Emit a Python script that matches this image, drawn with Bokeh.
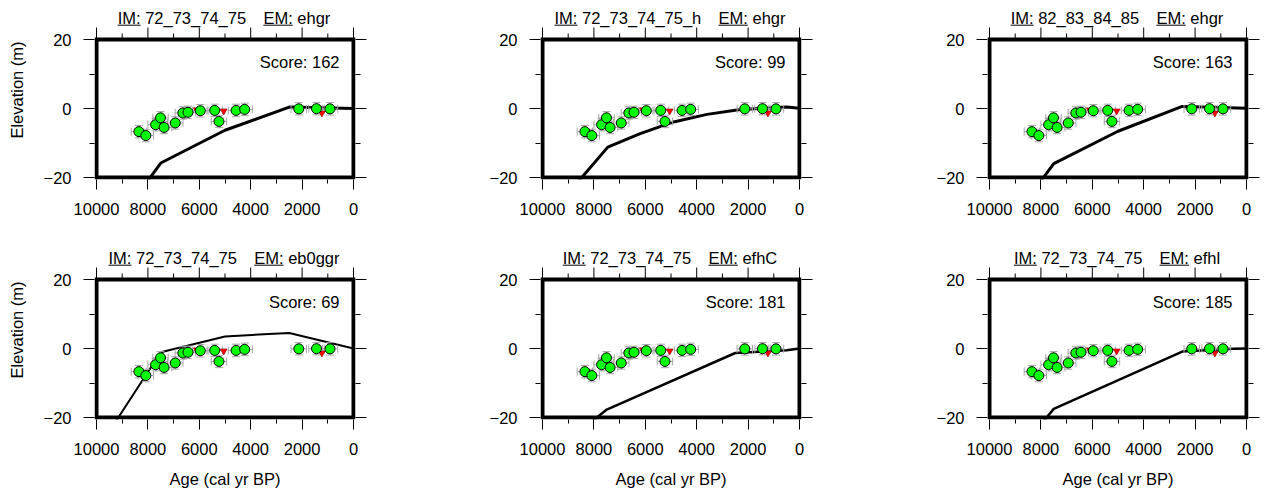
from bokeh.plotting import figure
from bokeh.layouts import gridplot
from bokeh.models import Range1d, FixedTicker, LinearAxis
from bokeh.core.properties import value
from bokeh.embed import file_html
from bokeh.resources import INLINE

# ---------------- data ----------------
obs_age = [8350, 8080, 7700, 7510, 7370, 6935, 6640, 6440, 5960, 5400, 5235, 4570, 4235, 2130, 1440, 915]
obs_elev = [-6.7, -7.85, -4.7, -2.7, -5.5, -4.2, -1.3, -1.1, -0.65, -0.55, -3.75, -0.55, -0.25, -0.1, -0.05, -0.1]
obs_age_err = [300, 300, 300, 300, 300, 300, 300, 300, 300, 300, 300, 300, 300, 300, 300, 300]
obs_elev_err = [1.8, 1.8, 1.8, 1.8, 1.8, 1.8, 1.8, 1.8, 1.8, 1.8, 1.8, 1.8, 1.8, 1.8, 1.8, 1.8]

lim_age = [6100, 5050, 1230]
lim_elev = [-0.4, -0.7, -1.3]

im_names = ["72_73_74_75", "72_73_74_75_h", "82_83_84_85",
            "72_73_74_75", "72_73_74_75", "72_73_74_75"]
em_names = ["ehgr", "ehgr", "ehgr", "eb0ggr", "efhC", "efhl"]
scores = [162, 99, 163, 69, 181, 185]

model1_age = [8300, 7500, 5000, 2500, 0]
model1_elev = [-24.0, -15.8, -6.3, 0.4, 0.0]
model2_age = [9000, 7460, 6200, 4900, 3600, 2300, 1000, 500, 0]
model2_elev = [-24.6, -11.2, -7.3, -3.9, -1.7, -0.3, 0.2, 0.4, 0.1]
model3_age = [8300, 7500, 5000, 2500, 0]
model3_elev = [-24.0, -16.0, -6.6, 0.6, 0.1]
model4_age = [9500, 7500, 5000, 2500, 0]
model4_elev = [-24.0, -1.1, 3.5, 4.5, 0.0]
model5_age = [8300, 7500, 2500, 500, 0]
model5_elev = [-22.5, -17.7, -1.3, -0.5, 0.0]
model6_age = [8200, 7500, 2500, 500, 0]
model6_elev = [-23.8, -17.5, -0.9, -0.1, 0.0]

model_ages = [model1_age, model2_age, model3_age, model4_age, model5_age, model6_age]
model_elevs = [model1_elev, model2_elev, model3_elev, model4_elev, model5_elev, model6_elev]
model_widths = [3, 3, 3, 2, 2.5, 2.5]

x_ticks = [10000, 8000, 6000, 4000, 2000, 0]
x_tick_labels = ["10000", "8000", "6000", "4000", "2000", "0"]
x_minor = [9000, 7000, 5000, 3000, 1000]
y_ticks = [20, 0, -20]
y_tick_labels = ["20", "0", "\u221220"]
y_minor = [10, -10]

X_MAX, X_MIN = 10000, 0
Y_MIN, Y_MAX = -20, 20

# ---------------- layout ----------------
FONT = "Liberation Sans"
FS = 16.5
FSS = "16.5px"
BW, BH = 257, 138          # data box in pixels
PAD = 2                    # half of the frame line width
BAND = 39                  # room above the box for title and top ticks
FW, FH = BW + 2 * PAD, BH + PAD + BAND
BL = [94, 93, 94]
BR = [92, 92, 15]
BB = [61, 72]

U = (X_MAX - X_MIN) / BW    # data units per pixel (x)
V = (Y_MAX - Y_MIN) / BH    # data units per pixel (y)

CW = {"I": 278, "M": 833, ":": 278, " ": 278, "_": 556, "E": 667, "e": 556, "h": 556,
      "g": 556, "r": 333, "b": 556, "f": 278, "C": 722, "l": 222}


def text_w(s):
    return sum(CW.get(c, 556) for c in s) / 1000.0 * FS


def px2x(px):          # pixels right of the box's left edge
    return X_MAX - px * U


def py2y(py):          # pixels above the box's top edge
    return Y_MAX + py * V


def style_axis(ax, major_out, minor_out):
    ax.axis_line_color = None
    ax.major_tick_in = 0
    ax.minor_tick_in = 0
    ax.major_tick_out = major_out
    ax.minor_tick_out = minor_out
    ax.major_tick_line_color = "black"
    ax.minor_tick_line_color = "black"
    ax.major_tick_line_width = 1
    ax.minor_tick_line_width = 1
    ax.major_label_text_font = FONT
    ax.major_label_text_font_size = FSS
    ax.major_label_text_color = "black"
    ax.axis_label_text_font = FONT
    ax.axis_label_text_font_size = FSS
    ax.axis_label_text_font_style = "normal"
    ax.axis_label_text_color = "black"


def make_panel(k, row, col):
    p = figure(width=BL[col] + FW + BR[col], height=FH + BB[row],
               x_range=Range1d(X_MAX + PAD * U, X_MIN - PAD * U),
               y_range=Range1d(Y_MIN - PAD * V, Y_MAX + BAND * V),
               output_backend="svg", toolbar_location=None, title=None,
               x_axis_location=None, y_axis_location=None,
               min_border_left=BL[col], min_border_right=BR[col],
               min_border_top=0, min_border_bottom=BB[row])
    p.xgrid.visible = False
    p.ygrid.visible = False
    p.outline_line_color = None
    p.background_fill_color = "white"
    p.border_fill_color = "white"

    xt = FixedTicker(ticks=x_ticks, minor_ticks=x_minor)
    yt = FixedTicker(ticks=y_ticks, minor_ticks=y_minor)

    xb = LinearAxis(ticker=xt)
    style_axis(xb, 12 - PAD, 6 - PAD)
    xb.major_label_overrides = dict(zip(x_ticks, x_tick_labels))
    xb.major_label_standoff = 13
    if row == 1:
        xb.axis_label = "Age (cal yr BP)"
        xb.axis_label_standoff = 12
    p.add_layout(xb, "below")

    yl = LinearAxis(ticker=yt)
    style_axis(yl, 13 - PAD, 7 - PAD)
    yl.major_label_overrides = dict(zip(y_ticks, y_tick_labels))
    yl.major_label_standoff = 12
    if col == 0:
        yl.axis_label = "Elevation (m)"
        yl.axis_label_standoff = 15
    p.add_layout(yl, "left")

    yr = LinearAxis(ticker=yt)
    style_axis(yr, 13 - PAD, 7 - PAD)
    yr.major_label_overrides = {t: "" for t in y_ticks}
    yr.major_label_text_font_size = "0px"
    yr.major_label_standoff = 0
    p.add_layout(yr, "right")

    # model curve
    p.line(model_ages[k], model_elevs[k], line_color="black", line_width=model_widths[k],
           line_join="round")

    # error bars
    x0 = [a - e for a, e in zip(obs_age, obs_age_err)]
    x1 = [a + e for a, e in zip(obs_age, obs_age_err)]
    y0 = [v - e for v, e in zip(obs_elev, obs_elev_err)]
    y1 = [v + e for v, e in zip(obs_elev, obs_elev_err)]
    ec = "#a6a6a6"
    p.segment(x0=x0, y0=obs_elev, x1=x1, y1=obs_elev, line_color=ec, line_width=1)
    p.segment(x0=obs_age, y0=y0, x1=obs_age, y1=y1, line_color=ec, line_width=1)
    p.scatter(x0 + x1, obs_elev + obs_elev, marker="dash", angle=1.5708, size=8,
              line_color=ec, line_width=1)
    p.scatter(obs_age + obs_age, y0 + y1, marker="dash", size=8, line_color=ec, line_width=1)

    # limiting data and index points
    p.scatter(lim_age, lim_elev, marker="inverted_triangle", size=7,
              fill_color="red", line_color="#700000", line_width=0.5)
    p.scatter(obs_age, obs_elev, marker="circle", size=10, fill_color="#00ff00",
              line_color="black", line_width=1)

    # mask anything drawn outside the data box (curve ends)
    p.quad(left=[X_MAX + PAD * U], right=[X_MAX], bottom=[Y_MIN - PAD * V], top=[Y_MAX],
           fill_color="white", line_color=None)
    p.quad(left=[X_MIN], right=[X_MIN - PAD * U], bottom=[Y_MIN - PAD * V], top=[Y_MAX],
           fill_color="white", line_color=None)
    p.quad(left=[X_MAX + PAD * U], right=[X_MIN - PAD * U], bottom=[Y_MIN - PAD * V],
           top=[Y_MIN], fill_color="white", line_color=None)
    p.quad(left=[X_MAX + PAD * U], right=[X_MIN - PAD * U], bottom=[Y_MAX],
           top=[Y_MAX + BAND * V], fill_color="white", line_color=None)

    # thick frame
    p.quad(left=[X_MAX], right=[X_MIN], bottom=[Y_MIN], top=[Y_MAX], fill_color=None,
           line_color="black", line_width=4, line_join="miter")

    # upper ticks
    p.segment(x0=x_ticks, y0=[Y_MAX] * len(x_ticks), x1=x_ticks,
              y1=[py2y(12)] * len(x_ticks), line_color="black", line_width=1)
    p.segment(x0=x_minor, y0=[Y_MAX] * len(x_minor), x1=x_minor,
              y1=[py2y(6)] * len(x_minor), line_color="black", line_width=1)

    # score
    p.text(x=[px2x(BW - 14)], y=[py2y(-22)], text=["Score: %d" % scores[k]],
           text_font=value(FONT), text_font_size=value(FSS), text_color="black",
           text_align="right", text_baseline="middle")

    # title with underlined prefixes
    t_im = "IM: " + im_names[k]
    t_em = "EM: " + em_names[k]
    gap = 17.3
    total = text_w(t_im) + gap + text_w(t_em)
    start = (BW - total) / 2.0 - 1
    em_start = start + text_w(t_im) + gap
    p.text(x=[px2x(start), px2x(em_start)], y=[py2y(21.7)] * 2, text=[t_im, t_em],
           text_font=value(FONT), text_font_size=value(FSS), text_color="black",
           text_align="left", text_baseline="middle")
    p.segment(x0=[px2x(start), px2x(em_start)], y0=[py2y(14.3)] * 2,
              x1=[px2x(start + text_w("IM:")), px2x(em_start + text_w("EM:"))],
              y1=[py2y(14.3)] * 2, line_color="black", line_width=1)
    return p


rows = [[make_panel(r * 3 + c, r, c) for c in range(3)] for r in range(2)]
grid = gridplot(rows, toolbar_location=None)
open("out.html", "w").write(file_html(grid, INLINE))
